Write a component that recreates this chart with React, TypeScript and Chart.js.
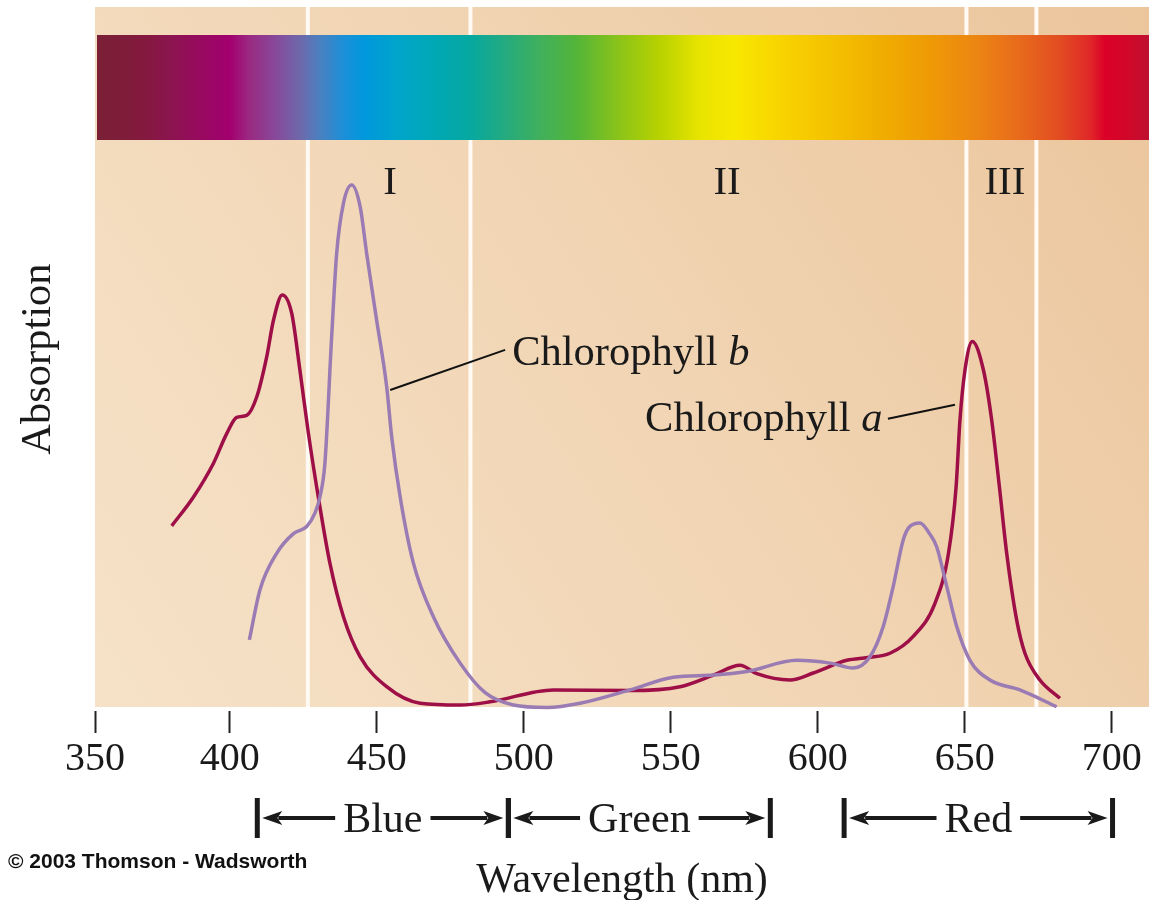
import React, { useEffect, useRef } from 'react';
import { Chart, registerables } from 'chart.js';

Chart.register(...registerables);

// ---------- data ----------
const chlAWavelength = [380.3, 387.7, 394.5, 399.0, 402.4, 405.8, 409.2, 412.6, 414.9, 417.9, 421.1, 423.9, 426.8, 430.7, 434.1, 438.7, 444.4, 453.4, 464.8, 478.4, 488.6, 510.1, 536.2, 553.2, 564.5, 573.6, 579.3, 590.6, 598.5, 609.9, 617.0, 624.6, 632.5, 639.9, 644.5, 647.1, 648.4, 650.1, 652.6, 656.4, 659.2, 661.8, 664.3, 667.7, 670.5, 675.6, 682.4];
const chlAAbsorption = [26.3, 30.4, 35.2, 39.4, 41.7, 42.0, 44.6, 50.3, 55.5, 59.1, 56.5, 48.4, 39.4, 29.0, 21.0, 13.4, 7.7, 3.45, 1.1, 0.85, 1.3, 3.0, 2.9, 3.45, 5.1, 6.5, 5.3, 4.4, 5.4, 7.2, 7.6, 8.2, 10.6, 15.3, 22.4, 31.9, 41.3, 48.4, 52.5, 48.4, 41.3, 31.9, 22.4, 12.9, 8.2, 4.4, 1.8];

const chlBWavelength = [406.7, 410.3, 416.0, 421.7, 426.2, 429.0, 430.7, 432.4, 434.7, 436.4, 438.7, 441.5, 444.4, 446.6, 450.0, 453.4, 455.1, 458.0, 462.5, 469.3, 478.4, 486.9, 496.5, 507.9, 519.2, 536.2, 550.9, 564.5, 575.9, 592.9, 604.2, 612.1, 617.8, 622.3, 625.7, 629.1, 631.1, 634.8, 637.9, 640.5, 643.9, 647.3, 651.8, 658.6, 668.8, 681.3];
const chlBAbsorption = [10.1, 17.2, 22.4, 25.2, 26.2, 28.1, 30.4, 35.2, 53.2, 65.0, 72.1, 74.7, 71.6, 65.0, 55.5, 46.1, 39.0, 30.4, 21.0, 13.4, 6.8, 2.6, 0.85, 0.5, 1.1, 3.0, 4.8, 5.1, 5.6, 7.2, 6.8, 6.1, 7.7, 12.0, 17.7, 24.3, 26.1, 26.7, 25.3, 23.3, 17.7, 12.0, 7.2, 4.4, 3.0, 0.6];

const tickValues = [354.2, 400, 450, 500, 550, 600, 650, 700];
const tickLabels = ['350', '400', '450', '500', '550', '600', '650', '700'];
const xMin = 354.2;
const xMax = 712.7;

const regionEdges = [426.6, 481.9, 650.6, 674.4];
const regionLabels = ['I', 'II', 'III'];
const regionLabelNm = [454.6, 569.2, 663.7];

const bandNames = ['Blue', 'Green', 'Red'];
const bandStart = [409.4, 494.8, 609.0];
const bandEnd = [494.8, 583.9, 700.3];

const spectrumNm = [354.9, 372.0, 380.0, 400.1, 406.9, 415.4, 423.9, 430.7, 439.2, 446.0, 456.2, 468.2, 481.8, 492.0, 505.6, 517.5, 532.8, 546.4, 560.0, 571.9, 587.2, 604.2, 621.2, 638.2, 653.5, 668.8, 682.4, 692.6, 697.7, 706.2, 712.7];
const spectrumColors = ['#7a2036', '#84193f', '#8c1450', '#a3006f', '#9a2a82', '#88489a', '#6e68aa', '#4a80c0', '#1a90d8', '#0098dc', '#00a4cc', '#00a8b8', '#06a8a0', '#20aa84', '#40b05c', '#52b43a', '#8cc418', '#b8d200', '#e8e400', '#f8e800', '#f8d400', '#f4c200', '#f0ae00', '#ef9a05', '#ec8612', '#e86a1c', '#e24c22', '#e02828', '#dc0028', '#d0082a', '#be1030'];

// annotation anchors (wavelength, absorption)
const labelB = { text: 'Chlorophyll ', italic: 'b', nm: 496.1, abs: 49.1 };
const labelA = { text: 'Chlorophyll ', italic: 'a', nm: 541.3, abs: 39.8 };
const leaderB = [[454.6, 45.6], [493.7, 51.3]];
const leaderA = [[623.9, 41.5], [646.7, 43.5]];

const SERIF = '"Liberation Serif", "Times New Roman", serif';
const COLOR_A = '#9e0f47';
const COLOR_B = '#9a7bb3';
const TEXT = '#1a1a1a';

const decorPlugin = {
  id: 'decor',
  beforeDraw(chart: any) {
    const { ctx, chartArea, scales } = chart;
    const xs = scales.x;
    const left = chartArea.left;
    const right = chartArea.right;
    const top = chartArea.top;
    const bottom = chartArea.bottom - 4;
    ctx.save();
    const g = ctx.createLinearGradient(left, bottom, right, top);
    g.addColorStop(0, '#f6e2c8');
    g.addColorStop(0.5, '#f1d5b4');
    g.addColorStop(1, '#ebc59c');
    ctx.fillStyle = g;
    ctx.fillRect(left, top, right - left, bottom - top);

    ctx.strokeStyle = '#fffaf3';
    ctx.lineWidth = 4;
    regionEdges.forEach((nm) => {
      const px = xs.getPixelForValue(nm);
      ctx.beginPath();
      ctx.moveTo(px, top);
      ctx.lineTo(px, bottom);
      ctx.stroke();
    });

    // spectrum bar
    const barL = left + 2;
    const barR = right;
    const barT = top + 28;
    const barB = top + 133;
    const sg = ctx.createLinearGradient(barL, 0, barR, 0);
    spectrumNm.forEach((nm, i) => {
      const p = (xs.getPixelForValue(nm) - barL) / (barR - barL);
      sg.addColorStop(Math.min(1, Math.max(0, p)), spectrumColors[i]);
    });
    ctx.fillStyle = sg;
    ctx.fillRect(barL, barT, barR - barL, barB - barT);

    // region labels
    ctx.fillStyle = TEXT;
    ctx.font = `41px ${SERIF}`;
    ctx.textAlign = 'center';
    ctx.textBaseline = 'alphabetic';
    regionLabels.forEach((t, i) => {
      ctx.fillText(t, xs.getPixelForValue(regionLabelNm[i]), top + 187);
    });
    ctx.restore();
  },
  afterDatasetsDraw(chart: any) {
    const { ctx, scales } = chart;
    const xs = scales.x;
    const ys = scales.y;
    ctx.save();
    ctx.strokeStyle = '#111';
    ctx.lineWidth = 2;
    [leaderB, leaderA].forEach((l) => {
      ctx.beginPath();
      ctx.moveTo(xs.getPixelForValue(l[0][0]), ys.getPixelForValue(l[0][1]));
      ctx.lineTo(xs.getPixelForValue(l[1][0]), ys.getPixelForValue(l[1][1]));
      ctx.stroke();
    });
    ctx.fillStyle = TEXT;
    ctx.textBaseline = 'alphabetic';
    ctx.textAlign = 'left';
    [labelB, labelA].forEach((lb) => {
      const x = xs.getPixelForValue(lb.nm);
      const y = ys.getPixelForValue(lb.abs);
      ctx.font = `42.5px ${SERIF}`;
      ctx.fillText(lb.text, x, y);
      const w = ctx.measureText(lb.text).width;
      ctx.font = `italic 42.5px ${SERIF}`;
      ctx.fillText(lb.italic, x + w, y);
    });
    ctx.restore();
  },
  afterDraw(chart: any) {
    const { ctx, chartArea, scales } = chart;
    const xs = scales.x;
    const arrowY = chartArea.bottom + 107;
    ctx.save();
    ctx.fillStyle = TEXT;
    ctx.strokeStyle = TEXT;
    ctx.font = `42px ${SERIF}`;
    ctx.textAlign = 'center';
    ctx.textBaseline = 'alphabetic';
    const arrow = (fromX: number, tipX: number) => {
      const dir = tipX > fromX ? 1 : -1;
      const headLen = 20;
      ctx.lineWidth = 4;
      ctx.beginPath();
      ctx.moveTo(fromX, arrowY);
      ctx.lineTo(tipX - dir * headLen * 0.8, arrowY);
      ctx.stroke();
      ctx.beginPath();
      ctx.moveTo(tipX, arrowY);
      ctx.lineTo(tipX - dir * headLen, arrowY - 7);
      ctx.lineTo(tipX - dir * headLen * 0.75, arrowY);
      ctx.lineTo(tipX - dir * headLen, arrowY + 7);
      ctx.closePath();
      ctx.fill();
    };
    bandNames.forEach((name, i) => {
      const x0 = xs.getPixelForValue(bandStart[i]);
      const x1 = xs.getPixelForValue(bandEnd[i]);
      const cx = (x0 + x1) / 2;
      const tw = ctx.measureText(name).width;
      ctx.fillText(name, cx, arrowY + 14);
      ctx.lineWidth = 5;
      [x0, x1].forEach((bx) => {
        ctx.beginPath();
        ctx.moveTo(bx, arrowY - 20);
        ctx.lineTo(bx, arrowY + 20);
        ctx.stroke();
      });
      arrow(cx - tw / 2 - 8, x0 + 5);
      arrow(cx + tw / 2 + 8, x1 - 5);
    });

    ctx.font = `bold 21px "Liberation Sans", Arial, sans-serif`;
    ctx.textAlign = 'left';
    ctx.fillStyle = '#111';
    ctx.fillText('\u00A9 2003 Thomson - Wadsworth', 8, 868);
    ctx.restore();
  },
};

export default function App() {
  const canvasRef = useRef<HTMLCanvasElement | null>(null);

  useEffect(() => {
    const canvas = canvasRef.current;
    if (!canvas) return;
    const chart = new Chart(canvas, {
      type: 'line',
      data: {
        datasets: [
          {
            label: 'Chlorophyll b',
            data: chlBWavelength.map((x, i) => ({ x, y: chlBAbsorption[i] })),
            borderColor: COLOR_B,
            borderWidth: 3.5,
            pointRadius: 0,
            fill: false,
            cubicInterpolationMode: 'monotone',
          },
          {
            label: 'Chlorophyll a',
            data: chlAWavelength.map((x, i) => ({ x, y: chlAAbsorption[i] })),
            borderColor: COLOR_A,
            borderWidth: 3.5,
            pointRadius: 0,
            fill: false,
            cubicInterpolationMode: 'monotone',
          },
        ],
      },
      options: {
        responsive: false,
        animation: false,
        devicePixelRatio: 1,
        layout: { padding: { left: 0, right: 0, top: 7, bottom: 0 } },
        plugins: { legend: { display: false }, tooltip: { enabled: false } },
        scales: {
          x: {
            type: 'linear',
            min: xMin,
            max: xMax,
            afterBuildTicks: (axis: any) => {
              axis.ticks = tickValues.map((v) => ({ value: v }));
            },
            afterFit: (axis: any) => {
              axis.height = 189;
            },
            ticks: {
              autoSkip: false,
              maxRotation: 0,
              minRotation: 0,
              padding: 2,
              color: TEXT,
              font: { family: SERIF, size: 40 },
              callback: (_v: any, index: number) => tickLabels[index],
            },
            grid: {
              display: true,
              drawOnChartArea: false,
              drawTicks: true,
              tickLength: 22,
              tickWidth: 2,
              tickColor: '#222',
              color: '#222',
            },
            border: { display: false },
            title: {
              display: true,
              text: 'Wavelength (nm)',
              color: TEXT,
              font: { family: SERIF, size: 42 },
              padding: { top: 0, bottom: -6 },
            },
          },
          y: {
            type: 'linear',
            min: 0,
            max: 100,
            afterFit: (axis: any) => {
              axis.width = 95;
            },
            ticks: { display: false },
            grid: { display: false },
            border: { display: false },
            title: {
              display: true,
              text: 'Absorption',
              color: TEXT,
              font: { family: SERIF, size: 42.5 },
              padding: { top: 13, bottom: 0 },
            },
          },
        },
      },
      plugins: [decorPlugin],
    } as any);
    return () => chart.destroy();
  }, []);

  return (
    <div style={{ position: 'absolute', left: 0, top: 0, width: 1149, height: 900, background: '#fff' }}>
      <canvas ref={canvasRef} width={1149} height={900} style={{ display: 'block' }} />
    </div>
  );
}
